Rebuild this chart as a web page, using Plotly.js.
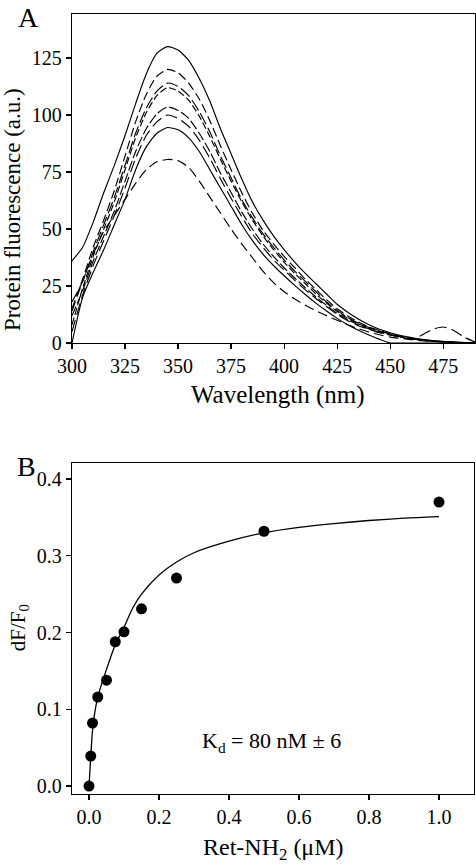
<!DOCTYPE html>
<html><head><meta charset="utf-8">
<script src="https://cdn.plot.ly/plotly-3.0.1.min.js"></script>
<style>body{margin:0;background:#fff}</style>
</head><body><div id="chart" style="width:476px;height:866px"></div>
<script>
const wavelength = [300,305,310,315,320,325,330,335,340,345,350,355,360,365,370,375,380,385,390,395,400,405,410,415,420,425,430,435,440,445,450,455,460,465,470,475,480,485,490];
const solid1  = [36,42,53,66,78,91,105,118,127,130,128.5,124,116,106,94,83,72,62,54,47,41,35.5,30.5,26,21.5,17,13.5,10.5,8,6,4.5,3.3,2.4,1.6,1.1,0.7,0.4,0.2,0];
const dash1   = [15,28,42,54,67,82,97,109,117,120,118.5,114,107,97.5,86.5,76,66,57,49.5,43.5,38,33,28,23.5,19,15,11.8,9.2,7,5.5,4,3,2,1.4,1,0.6,0.4,0.2,0];
const dash2   = [18,27,40,52,64,78,92,103,110.5,114,112.5,108.5,101.5,92.5,82,72.5,63,55,48,42,36.5,31.5,27,22.5,18,14.3,11.2,8.7,6.8,5.2,4,2.8,2,1.4,0.9,0.6,0.3,0.1,0];
const dash3   = [8,24,38,50,62,76,90,101,108.5,112,110.5,106.5,99.5,90.5,80.5,71,62,54,47,41,35.5,30.5,26,21.5,17.5,13.8,10.8,8.4,6.6,5,3.8,2.7,1.9,1.2,0.8,0.5,0.3,0.1,0];
const dash4   = [12,23,36,47,58,71,84,94,100.5,103.5,102,98.5,92,84,74.5,66,57.5,50,43.5,38,33,28.5,24.2,20.2,16.5,13,10.2,8,6.2,4.7,3.5,2.6,1.8,1.2,0.8,0.5,0.3,0.1,0];
const dash5   = [5,21,34,45,56,68,81,91,97,100,98.5,95,89,81,72,63.5,55.5,48,42,36.5,32,27.5,23.3,19.5,16,12.5,9.8,7.6,6,4.5,3.5,2.5,1.5,3.5,6,7,5.5,2.5,0.5];
const solid2  = [0,20,31,41,52,63,76,86,92,94.5,93.5,90,84,76,68,60,52,45,39,34,29.5,25.3,21.3,17.5,14,10.8,8,5.6,3.5,1.6,0,0,0,0,0,0,0,0,0];
const dash6   = [14,27,39,49,56,63,70,76,79.5,80.5,80,77,71,64,57,50,43.5,37.5,31.5,26.5,22.5,19.3,16.6,14.2,12,10,8,6.3,4.8,3.6,2.6,2,1.5,1,0.7,0.5,0.3,0.1,0];

const xTicksA = [300,325,350,375,400,425,450,475];
const yTicksA = [0,25,50,75,100,125];

const conc = [0,0.005,0.01,0.025,0.05,0.075,0.1,0.15,0.25,0.5,1.0];
const dFF0 = [0,0.039,0.082,0.116,0.138,0.188,0.201,0.231,0.271,0.332,0.370];
const fitConc = [0,0.005,0.01,0.02,0.03,0.05,0.075,0.1,0.125,0.15,0.2,0.25,0.3,0.4,0.5,0.6,0.7,0.8,0.9,1.0];
const fitDF   = [0,0.038,0.072,0.105,0.124,0.152,0.184,0.207,0.232,0.25,0.275,0.292,0.304,0.319,0.330,0.337,0.342,0.346,0.349,0.351];
const xTicksB = [0,0.2,0.4,0.6,0.8,1.0];
const yTicksB = [0,0.1,0.2,0.3,0.4];

const FONT = '"Liberation Serif", "Times New Roman", Times, serif';
function spec(y, dash){
  return {x: wavelength, y: y, type:'scatter', mode:'lines', xaxis:'x', yaxis:'y',
    line:{color:'black', width:1.15, dash: dash, shape:'spline', smoothing:0.6}, hoverinfo:'skip'};
}
const data = [
  spec(solid1,'solid'),
  spec(dash1,'9px,4px'),
  spec(dash2,'12px,4px'),
  spec(dash3,'7px,3px'),
  spec(dash4,'10px,3px'),
  spec(dash5,'12px,5px'),
  spec(solid2,'solid'),
  spec(dash6,'10px,5px'),
  {x: fitConc, y: fitDF, type:'scatter', mode:'lines', xaxis:'x2', yaxis:'y2',
   line:{color:'black', width:1.3, shape:'spline', smoothing:0.8}},
  {x: conc, y: dFF0, type:'scatter', mode:'markers', xaxis:'x2', yaxis:'y2',
   marker:{color:'black', size:11}}
];
const axisBase = {showline:true, mirror:true, linecolor:'black', linewidth:1.2,
  ticks:'outside', ticklen:5, tickwidth:1.2, tickcolor:'black', showgrid:false, zeroline:false,
  tickfont:{family:FONT, size:20, color:'black'}};
const layout = {
  width:476, height:866, margin:{l:72, r:1, t:14, b:72},
  paper_bgcolor:'white', plot_bgcolor:'white', showlegend:false,
  font:{family:FONT, size:20, color:'black'},
  xaxis:Object.assign({}, axisBase, {domain:[0,1], anchor:'y', range:[300,490], tickvals:xTicksA}),
  yaxis:Object.assign({}, axisBase, {domain:[0.5782,1], anchor:'x', range:[0,144.3], tickvals:yTicksA}),
  xaxis2:Object.assign({}, axisBase, {domain:[0,0.9975], anchor:'y2', range:[-0.0486,1.1], tickvals:xTicksB, tickformat:'.1f'}),
  yaxis2:Object.assign({}, axisBase, {domain:[0,0.4244], anchor:'x2', range:[-0.0104,0.421], tickvals:yTicksB, tickformat:'.1f'}),
  annotations:[
    {text:'A', xref:'paper', yref:'paper', x:-0.109, y:0.996, showarrow:false, font:{family:FONT,size:28}, xanchor:'center', yanchor:'middle'},
    {text:'B', xref:'paper', yref:'paper', x:-0.112, y:0.4205, showarrow:false, font:{family:FONT,size:28}, xanchor:'center', yanchor:'middle'},
    {text:'Wavelength (nm)', xref:'paper', yref:'paper', x:0.511, y:0.5115, showarrow:false, font:{family:FONT,size:25}, xanchor:'center', yanchor:'middle'},
    {text:'Protein fluorescence (a.u.)', xref:'paper', yref:'paper', x:-0.149, y:0.75, textangle:-90, showarrow:false, font:{family:FONT,size:23}, xanchor:'center', yanchor:'middle'},
    {text:'dF/F<sub>0</sub>', xref:'paper', yref:'paper', x:-0.133, y:0.213, textangle:-90, showarrow:false, font:{family:FONT,size:21}, xanchor:'center', yanchor:'middle'},
    {text:'Ret-NH<sub>2</sub> (μM)', xref:'paper', yref:'paper', x:0.4988, y:-0.0705, showarrow:false, font:{family:FONT,size:24}, xanchor:'center', yanchor:'middle'},
    {text:'K<sub>d</sub> = 80 nM ± 6', xref:'x2', yref:'y2', x:0.52, y:0.057, showarrow:false, font:{family:FONT,size:22}, xanchor:'center', yanchor:'middle'}
  ]
};
Plotly.newPlot('chart', data, layout, {staticPlot:true, displayModeBar:false});
</script></body></html>
